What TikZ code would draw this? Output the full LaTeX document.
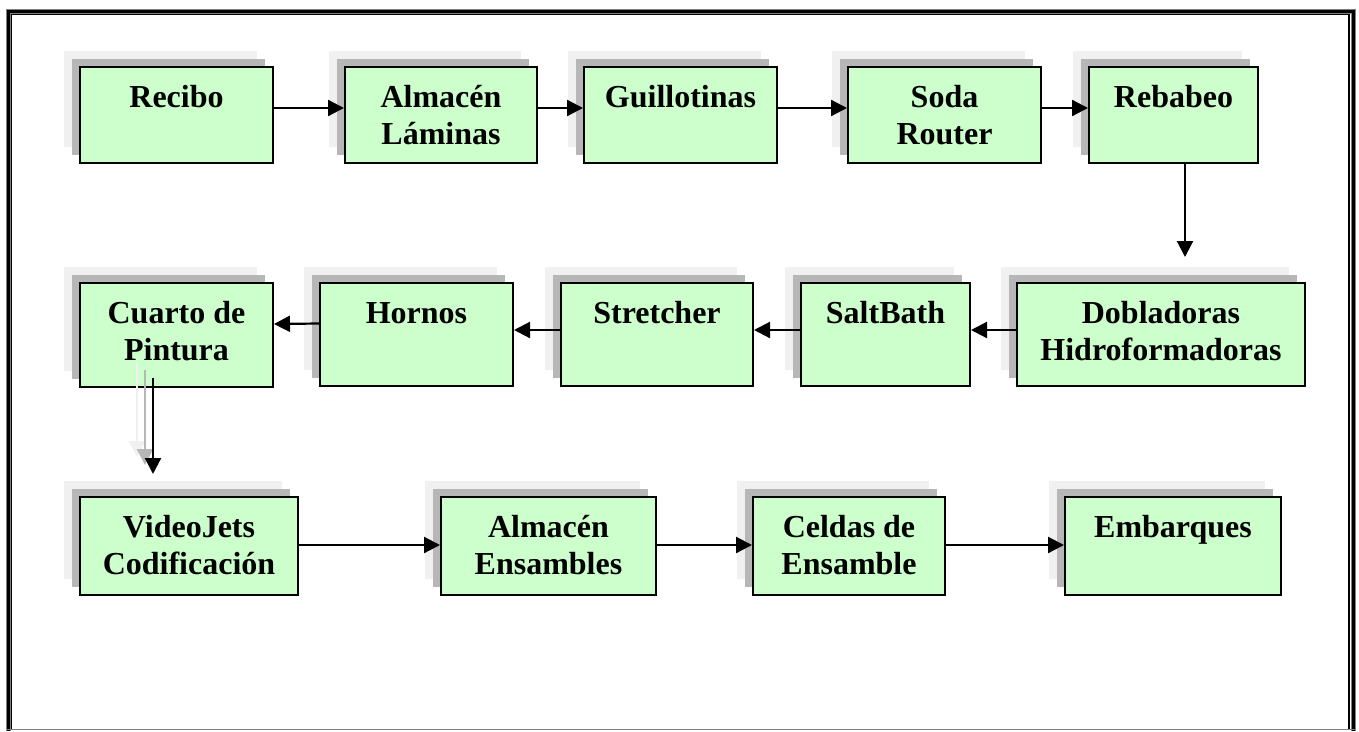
\documentclass[tikz,border=0pt]{standalone}
\usepackage{fontspec}
\setmainfont{Liberation Serif}
\usetikzlibrary{arrows.meta}
\definecolor{boxgreen}{HTML}{CCFFCC}
\definecolor{shlight}{HTML}{F0F0F0}
\definecolor{shdark}{HTML}{B7B7B7}
\tikzset{
  procnode/.style={draw=black, line width=2pt, fill=boxgreen, inner sep=0pt},
  lbl/.style={font=\fontsize{32}{37}\selectfont\bfseries, align=center, inner sep=0pt},
  arr/.style={line width=2.2pt, -{Triangle[length=16pt,width=16pt]}},
  ghostlight/.style={draw=shlight, line width=2.2pt, -{Triangle[length=16pt,width=16pt,fill=shlight]}},
  ghostdark/.style={draw=shdark, line width=2.2pt, -{Triangle[length=16pt,width=16pt,fill=shdark]}},
}
% name, left, top, right, bottom, text
\newcommand\procbox[6]{%
  \fill[shlight] ({#2-16},{#3-16}) rectangle ({#4-16},{#5-16});
  \fill[shdark] ({#2-8},{#3-8}) rectangle ({#4-8},{#5-8});
  \node[procnode, minimum width={#4-#2}, minimum height={#5-#3}] (#1) at ({(#2+#4)/2},{(#3+#5)/2}) {};
  \node[lbl, anchor=north, yshift=-15pt] (#1t) at (#1.north) {\strut #6};
}
\begin{document}
\begin{tikzpicture}[x=1pt, y=-1pt]
\useasboundingbox (0,0) rectangle (1359,731);
\fill[white] (0,0) rectangle (1359,731);
% frame
\draw[gray, line width=5pt] (8,731) -- (8,11) -- (1353,11) -- (1353,731);
\draw[black, line width=3pt] (8,731) -- (8,11) -- (1353,11) -- (1353,731);
\draw[black, line width=1.3pt] (11.8,729) -- (11.8,14.8) -- (1349,14.8) -- (1349,729);
\draw[gray, line width=1.5pt] (6,729.5) -- (1355,729.5);

% row 1
\procbox{b1}{80}{67}{273}{163}{Recibo}
\procbox{b2}{345}{67}{537}{163}{Almacén\\Láminas}
\procbox{b3}{584}{67}{777}{163}{Guillotinas}
\procbox{b4}{848}{67}{1041}{163}{Soda\\Router}
\procbox{b5}{1089}{67}{1258}{163}{Rebabeo}
% row 2
\procbox{b6}{1017}{283}{1305}{386}{Dobladoras\\Hidroformadoras}
\procbox{b7}{801}{283}{970}{386}{SaltBath}
\procbox{b8}{561}{283}{753}{386}{Stretcher}
\procbox{b9}{320}{283}{513}{386}{Hornos}
\procbox{b10}{80}{283}{273}{387}{Cuarto de\\Pintura}
% row 3
\procbox{b11}{80}{497}{298}{595}{VideoJets\\Codificación}
\procbox{b12}{441}{497}{656}{595}{Almacén\\Ensambles}
\procbox{b13}{753}{497}{945}{595}{Celdas de\\Ensamble}
\procbox{b14}{1065}{497}{1281}{595}{Embarques}

% row 1 connectors
\draw[arr] ([yshift=7pt]b1.east) -- ([yshift=7pt]b2.west);
\draw[arr] ([yshift=7pt]b2.east) -- ([yshift=7pt]b3.west);
\draw[arr] ([yshift=7pt]b3.east) -- ([yshift=7pt]b4.west);
\draw[arr] ([yshift=7pt]b4.east) -- ([yshift=7pt]b5.west);
% down to row 2
\coordinate (c1) at (1185,257);
\draw[arr] (b5.south -| c1) -- (c1);
% row 2 connectors
\draw[arr] ([yshift=4.5pt]b6.west) -- ([yshift=4.5pt]b7.east);
\draw[arr] ([yshift=4.5pt]b7.west) -- ([yshift=4.5pt]b8.east);
\draw[arr] ([yshift=4.5pt]b8.west) -- ([yshift=4.5pt]b9.east);
\draw[arr] ([yshift=11pt]b9.west) -- ([yshift=11pt]b10.east);
% down to row 3 (with shadow copies)
\coordinate (g1s) at (137,362);
\coordinate (g1e) at (137,457);
\coordinate (g2s) at (145,370);
\coordinate (g2e) at (145,465);
\coordinate (c2s) at (153,378);
\coordinate (c2e) at (153,474);
\draw[ghostlight] (g1s) -- (g1e);
\draw[ghostdark] (g2s) -- (g2e);
\draw[arr] (c2s) -- (c2e);
% row 3 connectors
\draw[arr] ([yshift=1pt]b11.east) -- ([yshift=1pt]b12.west);
\draw[arr] ([yshift=1pt]b12.east) -- ([yshift=1pt]b13.west);
\draw[arr] ([yshift=1pt]b13.east) -- ([yshift=1pt]b14.west);
\end{tikzpicture}
\end{document}
